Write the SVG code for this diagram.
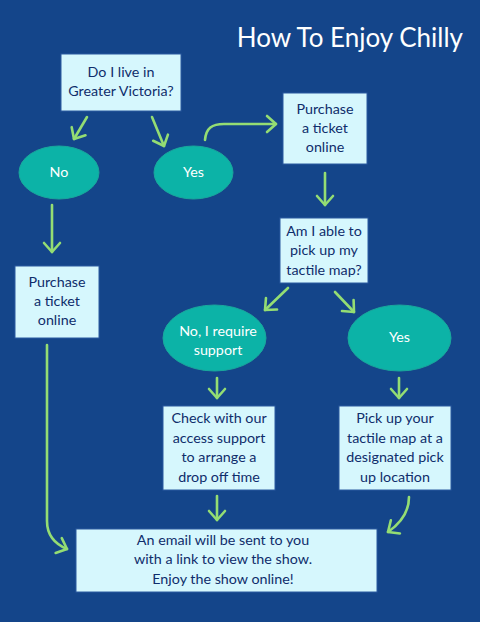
<svg xmlns="http://www.w3.org/2000/svg" width="480" height="622" viewBox="0 0 480 622">
<defs>
<style>
.box{fill:#d6f7fd;stroke:#2a5aa0;stroke-width:1}
.ell{fill:#0cb3a7;stroke:#1aa79c;stroke-width:1}
.t{font-family:Lato,"Open Sans",sans-serif;font-size:14.3px;fill:#0f2d6b;text-anchor:middle}
.w{font-family:Lato,"Open Sans",sans-serif;font-size:14.3px;fill:#ffffff;text-anchor:middle}
.c{fill:none;stroke:#94dd73;stroke-width:2.6;stroke-linecap:round;stroke-linejoin:round}
</style>
<marker id="ah" markerUnits="userSpaceOnUse" markerWidth="20" markerHeight="20" refX="0" refY="0" viewBox="-10 -10 20 20" orient="auto" overflow="visible">
<path d="M-9,-8 L0,0 L-9,8" fill="none" stroke="#94dd73" stroke-width="2.6" stroke-linecap="round" stroke-linejoin="round"/>
</marker>
</defs>
<rect width="480" height="622" fill="#14458a"/>
<text x="463" y="47" text-anchor="end" font-family="Lato,'Open Sans',sans-serif" font-size="26" fill="#ffffff">How To Enjoy Chilly</text>
<g id="connectors">
<path class="c" d="M87,117 L74,139" marker-end="url(#ah)"/>
<path class="c" d="M152,117 L164,146" marker-end="url(#ah)"/>
<path class="c" d="M205,140 C206,128 212,124 224,124 L276,124" marker-end="url(#ah)"/>
<path class="c" d="M325,173 L325,205" marker-end="url(#ah)"/>
<path class="c" d="M52,205 L52,252" marker-end="url(#ah)"/>
<path class="c" d="M288,288 L265,310" marker-end="url(#ah)"/>
<path class="c" d="M335,292 L354,312" marker-end="url(#ah)"/>
<path class="c" d="M217,378 L217,398" marker-end="url(#ah)"/>
<path class="c" d="M399,378 L399,398" marker-end="url(#ah)"/>
<path class="c" d="M217,496 L217,520" marker-end="url(#ah)"/>
<path class="c" d="M409,497 C409,512 401,523 388,532" marker-end="url(#ah)"/>
<path class="c" d="M47,345 L47,521 C47,536 55,544 67,549" marker-end="url(#ah)"/>
</g>
<g id="q1"><rect class="box" x="61" y="54" width="120" height="57"/><text class="t" x="121" y="77">Do I live in</text><text class="t" x="121" y="96">Greater Victoria?</text></g>
<g id="no1"><ellipse class="ell" cx="59" cy="172.5" rx="40" ry="26.5"/><text class="w" x="59" y="177">No</text></g>
<g id="yes1"><ellipse class="ell" cx="193.5" cy="172.5" rx="39.5" ry="26.5"/><text class="w" x="193.5" y="177">Yes</text></g>
<g id="buy1"><rect class="box" x="283" y="93" width="84" height="71"/><text class="t" x="325" y="114">Purchase</text><text class="t" x="325" y="133">a ticket</text><text class="t" x="325" y="152">online</text></g>
<g id="buy2"><rect class="box" x="15" y="266" width="84" height="72"/><text class="t" x="57" y="287">Purchase</text><text class="t" x="57" y="306">a ticket</text><text class="t" x="57" y="325">online</text></g>
<g id="q2"><rect class="box" x="280" y="218" width="88" height="65"/><text class="t" x="324" y="236">Am I able to</text><text class="t" x="324" y="255">pick up my</text><text class="t" x="324" y="275">tactile map?</text></g>
<g id="no2"><ellipse class="ell" cx="214.5" cy="338" rx="51.5" ry="33"/><text class="w" x="218" y="336">No, I require</text><text class="w" x="218" y="355">support</text></g>
<g id="yes2"><ellipse class="ell" cx="399.5" cy="338" rx="51.5" ry="33"/><text class="w" x="399.5" y="342">Yes</text></g>
<g id="check"><rect class="box" x="163" y="406" width="112" height="84"/><text class="t" x="219" y="423">Check with our</text><text class="t" x="219" y="443">access support</text><text class="t" x="219" y="462">to arrange a</text><text class="t" x="219" y="482">drop off time</text></g>
<g id="pick"><rect class="box" x="339" y="406" width="112" height="84"/><text class="t" x="395" y="423">Pick up your</text><text class="t" x="395" y="443">tactile map at a</text><text class="t" x="395" y="462">designated pick</text><text class="t" x="395" y="482">up location</text></g>
<g id="email"><rect class="box" x="76" y="529" width="301" height="63"/><text class="t" x="223" y="545">An email will be sent to you</text><text class="t" x="223" y="564">with a link to view the show.</text><text class="t" x="223" y="584">Enjoy the show online!</text></g>
</svg>
